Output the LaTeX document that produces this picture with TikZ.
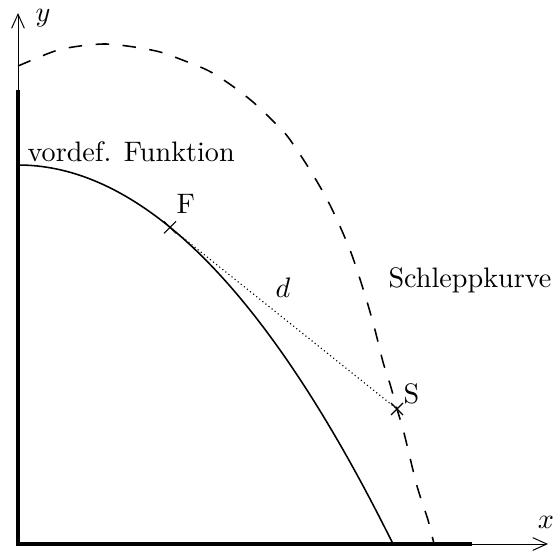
\documentclass[tikz,border=0pt]{standalone}
\usetikzlibrary{arrows.meta}
\tikzset{
  achse/.style     = {line width=0.35pt,-{Straight Barb[length=5pt,width=4.5pt]}},
  achsedick/.style = {line width=1.4pt,line join=miter},
  funktion/.style  = {line width=0.55pt},
  schlepp/.style   = {line width=0.55pt,dash pattern=on 4.8pt off 4.8pt},
  abstand/.style   = {line width=0.4pt,densely dotted},
  marke/.style     = {line width=0.4pt},
  beschr/.style    = {inner sep=0pt,anchor=base west},
}

\begin{document}
\begin{tikzpicture}[x=0.355pt,y=0.355pt]
  \useasboundingbox (-18,-6) rectangle (541,544);
  % Achsen
  \coordinate (O) at (0,0);
  \coordinate (xdick) at (454,0);
  \coordinate (ydick) at (0,454);
  \coordinate (xend) at (530,0);
  \coordinate (yend) at (0,531);
  \draw[achse] (O) -- (xend);
  \draw[achse] (O) -- (yend);
  \draw[achsedick] (ydick) -- (O) -- (xdick);
  \node[inner sep=0pt,anchor=base] (xlab) at (528,16) {$x$};
  \node[beschr] (ylab) at (17,522) {$y$};

  % vordefinierte Funktion (Parabel)
  \draw[funktion] plot[domain=0:375,samples=80] (\x,{379-379*(\x/375)^2});
  \node[beschr] (flab) at (9,383) {vordef. Funktion};

  % Schleppkurve
  \draw[schlepp] plot[smooth] coordinates {
    (0,478) (37,493) (62,498) (88,500) (116,497) (142,492) (167,483)
    (191,473) (213,459) (235,442) (254,424) (270,407) (292,374)
    (312,339) (332,294) (347,249) (357,214) (365,182) (372,160)
    (379,135) (386,111) (399,58) (410,24) (416,0)};
  \node[beschr] (slab) at (370,257) {Schleppkurve};

  % Punkte F und S mit Abstand d
  \coordinate (F) at (152,316.7);
  \coordinate (S) at (379,135);
  \draw[abstand] (F) -- (S);
  \draw[marke] (F) ++(-6,-6) -- ++(12,12) (F) ++(-6,6) -- ++(12,-12);
  \draw[marke] (S) ++(-6,-6) -- ++(12,12) (S) ++(-6,6) -- ++(12,-12);
  \node[beschr] (Flab) at (158,331) {F};
  \node[beschr] (Slab) at (385,141) {S};
  \node[inner sep=0pt,anchor=base] (dlab) at (265,247) {$d$};
\end{tikzpicture}
\end{document}
